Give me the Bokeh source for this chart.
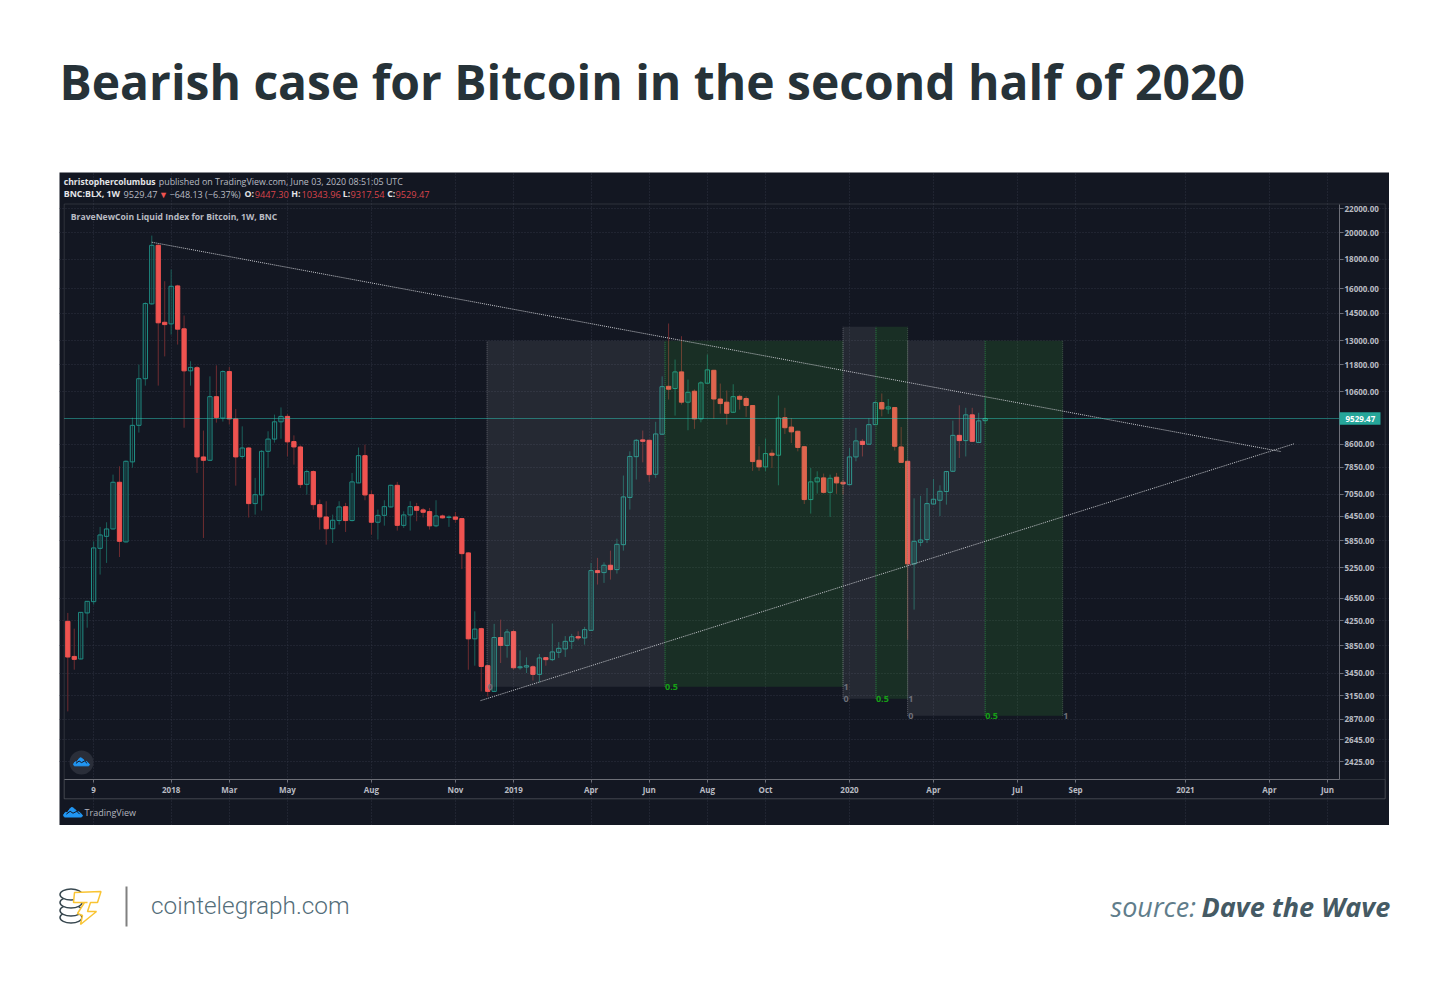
from bokeh.plotting import figure
from bokeh.layouts import column
from bokeh.embed import file_html
from bokeh.resources import INLINE
from bokeh.core.properties import value
from bokeh.models import (ColumnDataSource, Range1d, FixedTicker, PrintfTickFormatter, Label,
                          BoxAnnotation, LinearScale)

TITLE = "Bearish case for Bitcoin in the second half of 2020"
opens = [4242,3688,3651,4387,4589,5677,5955,6133,7389,5824,8015,9273,11168,15056,19017,13990,13900,16175,13630,11525,
 11670,8175,8066,10397,9547,11492,9515,8190,8472,6786,7024,8360,8778,9404,9610,8691,8507,7329,7711,6758,
 6434,6138,6342,6704,6342,7370,8216,7032,6299,6475,6696,7300,6222,6486,6704,6618,6573,6210,6460,6420,
 6434,6392,5574,3956,4120,3554,3208,3977,3854,4072,3525,3535,3539,3433,3670,3641,3749,3800,3917,3990,
 3970,4093,5194,5153,5306,5215,5760,6955,8183,8750,8736,7627,8950,10835,10740,11477,10170,10625,9515,10970,
 11550,10300,10170,9770,10410,10320,10035,8066,7855,8295,8230,9560,9210,9056,8515,6896,7400,7519,7098,7540,
 7389,7320,8175,8700,8600,9300,10155,9900,9955,8507,8034,5335,5815,5878,6775,6877,7120,7720,8910,8725,
 9670,8660,9447.30]
highs = [4387,4120,4400,4600,5838,6183,6299,7618,7875,8060,9560,11816,15150,19770,19100,16480,17267,16250,14370,11975,
 11750,9082,11275,11780,11550,11705,9900,9236,8500,7519,8400,9056,9678,9960,9700,8910,8560,7773,7750,6896,
 6850,6494,6850,6805,7670,8490,8586,7156,6626,6877,7320,7400,6580,6850,6805,6670,6670,6877,6494,6475,
 6565,6400,5590,4415,4135,3560,4200,4271,4115,4104,3778,3675,3560,3725,3680,4205,3905,4000,4035,4077,
 4150,5356,5465,5368,5625,5900,7590,8360,8778,9082,8760,9404,11275,13920,12057,13235,11132,10700,11060,12300,
 11570,10955,10655,10925,10480,10410,10050,8530,8795,8418,10445,9945,9547,9080,8540,7825,7720,7650,7618,7670,
 7469,8472,9180,8778,9547,10210,10530,10300,9970,9210,8060,6930,7000,7222,7490,7300,7730,9450,10045,9945,
 9945,9750,10343.96]
lows = [2962,3498,3645,4136,4535,5112,5356,6120,5484,5810,7830,9009,10865,15000,10865,12210,13320,12800,9185,10865,
 7670,5917,8040,9375,9413,9300,7290,8107,6420,6494,6600,7820,8656,8790,8190,7927,7222,7032,6626,6117,
 5760,5800,6240,6060,6320,7360,6877,5995,5878,6214,6680,6093,6160,6093,6325,6420,6117,6175,6392,6185,
 6285,5226,3498,3554,3208,3143,3200,3593,3670,3498,3498,3452,3350,3325,3554,3620,3666,3680,3800,3933,
 3865,4085,4913,4945,5011,5132,5625,6626,7469,8000,7400,7519,8930,10278,9640,10075,9092,9143,9385,10950,
 9515,9718,9300,9750,9876,9590,7733,7733,7720,7820,7300,8960,8640,8360,6775,6520,7063,7063,6434,7055,
 7032,7300,8034,8190,8590,9285,9610,9707,8385,7995,3944,4445,5725,5800,6760,6455,6758,7700,8140,8190,
 8690,8650,9317.54]
closes = [3679,3645,4397,4595,5686,5988,6133,7389,5838,8034,9273,11168,15074,19017,13960,13860,16150,13610,11525,11685,
 8175,8066,10397,9570,11492,9515,8175,8472,6786,7032,8360,8778,9404,9610,8682,8507,7320,7711,6758,6434,
 6138,6350,6696,6342,7400,8216,7024,6299,6475,6704,7300,6222,6486,6704,6607,6555,6210,6460,6410,6434,
 6375,5558,3956,4113,3543,3208,3977,3854,4066,3525,3539,3554,3433,3666,3641,3755,3809,3917,3990,3970,
 4104,5194,5153,5306,5215,5768,6970,8190,8736,8700,7618,8960,10820,10710,11477,10170,10580,9515,10985,11570,
 10300,10115,9730,10397,10290,10035,8025,7855,8285,8230,9547,9185,9035,8490,6896,7400,7519,7098,7508,7370,
 7340,8175,8715,8590,9300,10155,9900,9980,8530,8000,5335,5838,5870,6786,6905,7127,7711,8910,8725,9670,
 8700,9440,9529.47]

y_ticks = [22000,20000,18000,16000,14500,13000,11800,10600,8600,7850,7050,6450,5850,5250,4650,4250,3850,3450,3150,2870,2645,2425]
x_tick_bars = [4,16,25,34,47,60,69,81,90,99,108,121,134,147,156,173,186,195]
x_tick_labels = ["9","2018","Mar","May","Aug","Nov","2019","Apr","Jun","Aug","Oct","2020","Apr","Jul","Sep","2021","Apr","Jun"]
last_price = 9529.47

# Fibonacci time zones: start, middle, end bars and the price span they cover
zone_start = [64.9,120,130]
zone_mid = [92.45,125.1,142]
zone_end = [120,130,154]
zone_top = [13000,13748,13000]
zone_bottom = [3267,3114,2910]

# Trend lines: bar and price of each end
upper_x = [13.0,187.8]
upper_y = [19254,8351]
lower_x = [63.9,189.8]
lower_y = [3092,8613]

# Plotted span of the pane
BAR_LO, BAR_HI = -0.511, 196.85
PRICE_LO, PRICE_HI = 2257, 22381

BG = "#131722"
AXC = "#6d6f78"
TXT = "#b9bbc2"
RED = "#ef5350"
TEAL = "#26a69a"
GREENBAND = "#56fb3f"

def blank(h, top):
    f = figure(width=1440, height=h, x_range=Range1d(1,1441), y_range=Range1d(top+h,top),
               x_axis_type=None, y_axis_type=None, toolbar_location=None, output_backend="svg",
               min_border=0, outline_line_color=None, background_fill_color="white", border_fill_color="white")
    f.grid.visible = False
    return f

# ---------------- title
head = blank(172, 1)
head.add_layout(Label(x=60, y=82, text=TITLE, text_font="Open Sans", text_font_style="bold", text_font_size="48px",
                      text_color="#263238", text_baseline="middle"))

# ---------------- chart: the frame fills the dark panel, the axes are pinned inside it
bars = list(range(len(opens)))
up = [c >= o for o, c in zip(opens, closes)]
src = ColumnDataSource(dict(x=bars, o=opens, h=highs, l=lows, c=closes,
                            top=[max(a,b) for a,b in zip(opens,closes)],
                            bot=[min(a,b) for a,b in zip(opens,closes)],
                            wick=["#1a5f5a" if u else "#6e2c30" for u in up],
                            fill=[BG if u else RED for u in up],
                            falpha=[0 if u else 1 for u in up],
                            edge=["#1f8f85" if u else RED for u in up]))

p = figure(width=1330, height=653, margin=(0,0,0,59), y_axis_type="log", y_axis_location="right",
           x_range=Range1d(-1.285,204.59), y_range=Range1d(1878.6,25429),
           toolbar_location=None, output_backend="svg", min_border=0,
           background_fill_color=BG, border_fill_color=BG, outline_line_color=None)
p.extra_x_ranges["px"] = Range1d(60,1390)
p.extra_y_ranges["px"] = Range1d(826,173)
p.extra_x_scales["px"] = LinearScale()
p.extra_y_scales["px"] = LinearScale()

ticker = FixedTicker(ticks=x_tick_bars)
p.xaxis.ticker = ticker
p.xaxis.major_label_overrides = {k: v for k, v in zip(x_tick_bars, x_tick_labels)}
p.yaxis.ticker = FixedTicker(ticks=y_ticks)
p.yaxis.formatter = PrintfTickFormatter(format="%.2f")
p.xaxis[0].fixed_location = PRICE_LO
p.yaxis[0].fixed_location = BAR_HI
p.xaxis[0].bounds = (BAR_LO, BAR_HI)
p.yaxis[0].bounds = (PRICE_LO, PRICE_HI)
for ax in (p.xaxis[0], p.yaxis[0]):
    ax.axis_line_color = AXC
    ax.major_tick_line_color = AXC
    ax.major_tick_in = 0
    ax.minor_tick_line_color = None
    ax.major_label_text_color = TXT
    ax.major_label_text_font = "Open Sans"
    ax.major_label_text_font_size = "8px"
    ax.major_label_text_font_style = "bold"
p.xaxis[0].major_tick_out = 3
p.xaxis[0].major_label_standoff = 1
p.yaxis[0].major_tick_out = 4
p.yaxis[0].major_label_standoff = 1
p.xgrid.ticker = ticker
p.ygrid.ticker = FixedTicker(ticks=y_ticks)
p.xgrid.bounds = (PRICE_LO, PRICE_HI)
p.ygrid.bounds = (BAR_LO, BAR_HI)
p.grid.grid_line_color = "#2f3340"
p.grid.grid_line_dash = "1 2"
p.grid.grid_line_width = 1

p.segment("x","h","x","l", source=src, line_color="wick", line_width=1)
p.vbar("x", 0.66, "bot", "top", source=src, fill_color="fill", fill_alpha="falpha", line_color="edge", line_width=1)

# Zones sit over the candles
p.quad(left=zone_start, right=zone_mid, top=zone_top, bottom=zone_bottom, fill_color="white", fill_alpha=0.078, line_color=None)
p.quad(left=zone_mid, right=zone_end, top=zone_top, bottom=zone_bottom, fill_color=GREENBAND, fill_alpha=0.105, line_color=None)
p.segment(zone_start, zone_bottom, zone_start, zone_top, line_color="#8a8c96", line_alpha=0.6, line_dash="1 1")
p.segment(zone_mid, zone_bottom, zone_mid, zone_top, line_color="#2f9a4a", line_alpha=0.8, line_dash="1 1")
p.segment(zone_end, zone_bottom, zone_end, zone_top, line_color="#6a8a70", line_alpha=0.5, line_dash="1 1")
lab_style = dict(text_font=value("Open Sans"), text_font_size="9px", text_baseline="middle", text_font_style="bold")
p.text(zone_mid, zone_bottom, text=["0.5"]*3, text_color="#16a016", **lab_style)
p.text(zone_start, zone_bottom, text=["0"]*3, text_color=AXC, x_offset=0.5, **lab_style)
p.text(zone_end, zone_bottom, text=["1"]*3, text_color=AXC, x_offset=0.5, **lab_style)

p.line(upper_x, upper_y, line_color="#c4c6cc", line_width=1, line_dash="1 1")
p.line(lower_x, lower_y, line_color="#c4c6cc", line_width=1, line_dash="1 1")
p.line([BAR_LO, BAR_HI], [last_price, last_price], line_color="#2fc4b6", line_width=1.2, line_dash="1 1")

def sx(x): return x - 60
def sy(y): return 826 - y

def chart_text(x, y, text, color=TXT, bold=False, size="9px", font="Open Sans"):
    p.add_layout(Label(x=sx(x), y=sy(y), text=text, x_units="screen", y_units="screen", text_color=color,
                       text_font=font, text_font_size=size, text_font_style="bold" if bold else "normal",
                       text_baseline="middle"))

def screen_box(l, r, t, b, **kw):
    p.add_layout(BoxAnnotation(left=sx(l), right=sx(r), top=sy(t), bottom=sy(b), left_units="screen", right_units="screen",
                               top_units="screen", bottom_units="screen", **kw))

# price scale tag and pane outlines
screen_box(1340, 1381, 412.7, 425.3, fill_color=TEAL, fill_alpha=1, line_color=None)
chart_text(1346, 419.3, "9529.47", color="white", bold=True, size="8px")
screen_box(64.7, 1385.7, 204.5, 799.3, fill_alpha=0, line_color=AXC, line_width=1)
screen_box(64.7, 1385.7, 780, 799.3, fill_alpha=0, line_color=AXC, line_width=1)

# header
W = "#e4e5e8"
chart_text(64.3, 182, "christophercolumbus", color=W, bold=True, size="8.6px")
chart_text(159.3, 182, "published on TradingView.com, June 03, 2020 08:51:05 UTC", color=TXT, size="8.9px")
chart_text(64.3, 194.5, "BNC:BLX, 1W", color=W, bold=True, size="8.8px")
chart_text(124, 194.5, "9529.47", color=TXT, size="9.2px")
chart_text(159.5, 194.5, "\u25bc", color=RED, size="9px")
chart_text(170, 194.5, "\u2212648.13 (\u22126.37%)", color=TXT)
for x, t in [(245,"O:"),(291.7,"H:"),(343.3,"L:"),(387.7,"C:")]:
    chart_text(x, 194.5, t, color=W, bold=True, size="8.8px")
for x, t in [(255.3,"9447.30"),(302,"10343.96"),(351,"9317.54"),(396,"9529.47")]:
    chart_text(x, 194.5, t, color="#d9444b", size="9.2px")
chart_text(71.3, 217, "BraveNewCoin Liquid Index for Bitcoin, 1W, BNC", color=TXT, bold=True, size="8.6px")

# TradingView marks
cloud_a = (0,2,4,6,7.5,9,11,13,14,16,18,20,19,1)
cloud_b = (8,5,5.5,2.5,0.5,0,1,3,5,4.5,6,8.5,10,10)
def cloud(x0, y0, s, color):
    p.patch([x0+s*a for a in cloud_a], [y0+s*b for b in cloud_b], x_range_name="px", y_range_name="px",
            fill_color=color, line_color=color, line_width=1)
    p.line([x0+s*a for a in (3,7,10,14,17)], [y0+s*b for b in (7,4,6,4,7)], x_range_name="px", y_range_name="px",
           line_color=BG, line_width=1)
p.scatter([82],[763], x_range_name="px", y_range_name="px", size=24, marker="circle",
          fill_color="#2a2e39", line_color=None)
cloud(74, 758.3, 0.8, "#2196f3")
cloud(64, 808, 0.95, "#2196f3")
chart_text(85, 813, "TradingView", color="#b2b5be")

# ---------------- footer
foot = blank(150, 826)
foot.add_layout(Label(x=151.5, y=906, text="cointelegraph.com", text_font="Roboto Light", text_font_size="24.4px",
                      text_color="#546e7a", text_baseline="middle"))
foot.add_layout(Label(x=1111, y=907, text="source:", text_font="Open Sans", text_font_style="italic", text_font_size="27px",
                      text_color="#607d8b", text_baseline="middle"))
foot.add_layout(Label(x=1202, y=907, text="Dave the Wave", text_font="Open Sans", text_font_style="bold italic", text_font_size="27px",
                      text_color="#455a64", text_baseline="middle"))
foot.segment([127],[887],[127],[927], line_color="#808080", line_width=2)
# coin stack
for yc in (918, 911, 903, 895):
    foot.ellipse([71.5],[yc], width=22, height=11, fill_color="white", line_color="#37474f", line_width=1.5)
# lightning T
foot.patch([75,101.5,98,91,88,97,81,83,78,85,88,74],
           [893,892,903,903,912,912,925,916,914,903,903,903],
           fill_color="white", line_color="#f9c433", line_width=1.5)

open("out.html", "w").write(file_html(column(head, p, foot, spacing=0), INLINE))
